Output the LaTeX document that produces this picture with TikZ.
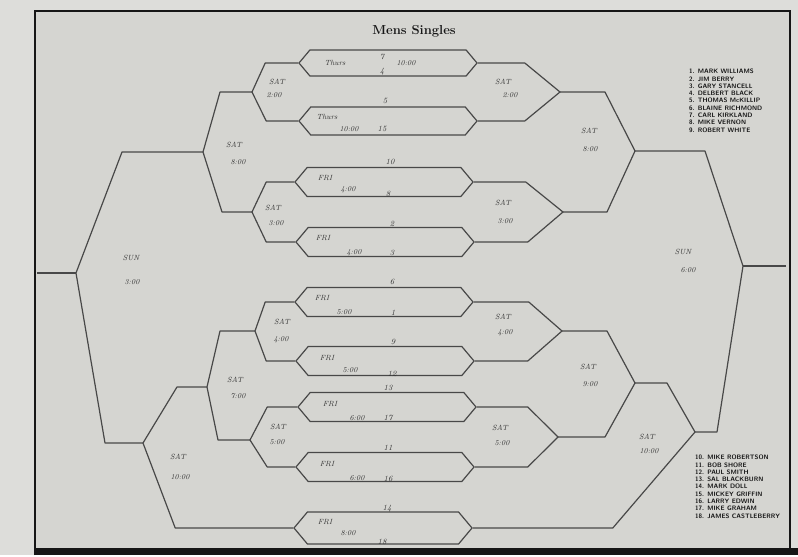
\documentclass[tikz,border=0pt]{standalone}
\usepackage{tikz}
\usetikzlibrary{shapes.symbols}

\definecolor{margin}{RGB}{221,221,218}
\definecolor{paper}{RGB}{213,213,209}
\definecolor{pen}{RGB}{72,72,72}
\definecolor{ink}{RGB}{50,50,50}
\definecolor{edge}{RGB}{22,22,22}

\begin{document}
\begin{tikzpicture}[
      x=1pt, y=-1pt,
      every node/.style={inner sep=0pt},
      match/.style={shape=signal, signal to=west and east, signal pointer angle=100, draw=pen, line width=1.2pt, minimum width=178, minimum height=29},
      wire/.style={draw=pen, line width=1.2pt, line join=round},
      hand/.style={text=ink, font=\fontsize{7.5}{8}\selectfont\itshape},
      seed/.style={text=ink, font=\fontsize{8}{8}\selectfont\itshape},
      roster/.style={text=edge, align=left, anchor=north west, font=\fontsize{6.4}{7.3}\selectfont\sffamily\bfseries}
    ]
      % paper and frame
      \fill[margin] (0,0) rectangle (798,555);
      \fill[paper] (35,11) rectangle (790,548);
      \draw[edge, line width=2.4pt] (35,555) -- (35,11) -- (790,11) -- (790,555);
      \fill[edge] (35,548) rectangle (798,555);
      \useasboundingbox (0,0) rectangle (798,555);

      \node[font=\fontsize{13}{14}\selectfont\bfseries, text=edge] (title) at (414,31) {Mens Singles};

      % first round
      \node[match, minimum height=26] (h1) at (388,63) {};
      \node[match, minimum height=28] (h2) at (388,121) {};
      \node[match] (h3) at (384,182) {};
      \node[match] (h4) at (385,242) {};
      \node[match] (h5) at (384,302) {};
      \node[match] (h6) at (385,361) {};
      \node[match] (h7) at (387,407) {};
      \node[match] (h8) at (385,467) {};
      \node[match, minimum height=32] (h9) at (383,528) {};

      % winners side (left)
      \coordinate (wa) at (252,92);
      \coordinate (wb) at (252,212);
      \coordinate (wc) at (255,331);
      \coordinate (wd) at (250,440);
      \coordinate (we) at (203,152);
      \coordinate (wf) at (207,387);
      \coordinate (wg) at (143,443);
      \coordinate (wh) at (76,273);
      \coordinate (wout) at (37,273);

      \path[wire] (h1.west) -- ++(-33,0) -- (wa) -- ([xshift=-32]h2.west) -- (h2.west);
      \path[wire] (h3.west) -- ++(-28,0) -- (wb) -- ([xshift=-29]h4.west) -- (h4.west);
      \path[wire] (h5.west) -- ++(-29,0) -- (wc) -- ([xshift=-29]h6.west) -- (h6.west);
      \path[wire] (h7.west) -- ++(-30,0) -- (wd) -- ([xshift=-28]h8.west) -- (h8.west);
      \path[wire] (wa) -- ++(-32,0) -- (we) -- ([xshift=-30]wb) -- (wb);
      \path[wire] (wc) -- ++(-35,0) -- (wf) -- ([xshift=-32]wd) -- (wd);
      \path[wire] (wf) -- ++(-30,0) -- (wg) -- ([xshift=-118]h9.west) -- (h9.west);
      \path[wire] (we) -- ++(-81,0) -- (wh) -- ([xshift=-38]wg) -- (wg);
      \path[wire] (wh) -- (wout);

      % losers side (right)
      \coordinate (la) at (560,92);
      \coordinate (lb) at (563,212);
      \coordinate (lc) at (562,331);
      \coordinate (ld) at (558,437);
      \coordinate (le) at (635,151);
      \coordinate (lf) at (635,383);
      \coordinate (lg) at (695,432);
      \coordinate (lh) at (743,266);
      \coordinate (lout) at (786,266);

      \path[wire] (h1.east) -- ++(47,0) -- (la) -- ([xshift=47]h2.east) -- (h2.east);
      \path[wire] (h3.east) -- ++(52,0) -- (lb) -- ([xshift=53]h4.east) -- (h4.east);
      \path[wire] (h5.east) -- ++(55,0) -- (lc) -- ([xshift=53]h6.east) -- (h6.east);
      \path[wire] (h7.east) -- ++(51,0) -- (ld) -- ([xshift=53]h8.east) -- (h8.east);
      \path[wire] (la) -- ++(45,0) -- (le) -- ([xshift=44]lb) -- (lb);
      \path[wire] (lc) -- ++(45,0) -- (lf) -- ([xshift=47]ld) -- (ld);
      \path[wire] (lf) -- ++(32,0) -- (lg) -- ([xshift=140]h9.east) -- (h9.east);
      \path[wire] (le) -- ++(70,0) -- (lh) -- ([xshift=22]lg) -- (lg);
      \path[wire] (lh) -- (lout);

      % first round labels
      \node[hand] (h1day) at (335,63) {Thurs};
      \node[hand] (h1time) at (406,63) {10:00};
      \node[seed] (h1top) at (382,57) {7};
      \node[seed] (h1bot) at (382,72) {4};
      \node[hand] (h2day) at (327,117) {Thurs};
      \node[hand] (h2time) at (349,129) {10:00};
      \node[seed] (h2top) at (385,101) {5};
      \node[seed] (h2bot) at (382,129) {15};
      \node[hand] (h3day) at (325,178) {FRI};
      \node[hand] (h3time) at (348,190) {4:00};
      \node[seed] (h3top) at (390,162) {10};
      \node[seed] (h3bot) at (388,194) {8};
      \node[hand] (h4day) at (323,238) {FRI};
      \node[hand] (h4time) at (354,253) {4:00};
      \node[seed] (h4top) at (392,224) {2};
      \node[seed] (h4bot) at (392,253) {3};
      \node[hand] (h5day) at (322,298) {FRI};
      \node[hand] (h5time) at (344,312) {5:00};
      \node[seed] (h5top) at (392,282) {6};
      \node[seed] (h5bot) at (393,313) {1};
      \node[hand] (h6day) at (327,358) {FRI};
      \node[hand] (h6time) at (350,370) {5:00};
      \node[seed] (h6top) at (393,342) {9};
      \node[seed] (h6bot) at (392,374) {12};
      \node[hand] (h7day) at (330,404) {FRI};
      \node[hand] (h7time) at (357,418) {6:00};
      \node[seed] (h7top) at (388,388) {13};
      \node[seed] (h7bot) at (388,418) {17};
      \node[hand] (h8day) at (327,464) {FRI};
      \node[hand] (h8time) at (357,478) {6:00};
      \node[seed] (h8top) at (388,448) {11};
      \node[seed] (h8bot) at (388,479) {16};
      \node[hand] (h9day) at (325,522) {FRI};
      \node[hand] (h9time) at (348,533) {8:00};
      \node[seed] (h9top) at (387,509) {14};
      \node[seed] (h9bot) at (382,542) {18};

      % winners side labels
      \node[hand] (waday) at (277,82) {SAT};
      \node[hand] (watime) at (274,95) {2:00};
      \node[hand] (wbday) at (273,208) {SAT};
      \node[hand] (wbtime) at (276,223) {3:00};
      \node[hand] (wcday) at (282,322) {SAT};
      \node[hand] (wctime) at (281,340) {4:00};
      \node[hand] (wdday) at (278,427) {SAT};
      \node[hand] (wdtime) at (277,442) {5:00};
      \node[hand] (weday) at (234,145) {SAT};
      \node[hand] (wetime) at (238,162) {8:00};
      \node[hand] (wfday) at (235,380) {SAT};
      \node[hand] (wftime) at (238,396) {7:00};
      \node[hand] (wgday) at (178,457) {SAT};
      \node[hand] (wgtime) at (180,477) {10:00};
      \node[hand] (whday) at (131,258) {SUN};
      \node[hand] (whtime) at (132,282) {3:00};

      % losers side labels
      \node[hand] (laday) at (503,82) {SAT};
      \node[hand] (latime) at (510,95) {2:00};
      \node[hand] (lbday) at (503,203) {SAT};
      \node[hand] (lbtime) at (505,221) {3:00};
      \node[hand] (lcday) at (503,317) {SAT};
      \node[hand] (lctime) at (505,333) {4:00};
      \node[hand] (ldday) at (500,428) {SAT};
      \node[hand] (ldtime) at (502,443) {5:00};
      \node[hand] (leday) at (589,131) {SAT};
      \node[hand] (letime) at (590,149) {8:00};
      \node[hand] (lfday) at (588,367) {SAT};
      \node[hand] (lftime) at (590,384) {9:00};
      \node[hand] (lgday) at (647,437) {SAT};
      \node[hand] (lgtime) at (649,451) {10:00};
      \node[hand] (lhday) at (683,252) {SUN};
      \node[hand] (lhtime) at (688,270) {6:00};

      % seedings
      \node[roster] (topseeds) at (689,69) {1. MARK WILLIAMS\\2. JIM BERRY\\3. GARY STANCELL\\4. DELBERT BLACK\\5. THOMAS McKILLIP\\6. BLAINE RICHMOND\\7. CARL KIRKLAND\\8. MIKE VERNON\\9. ROBERT WHITE};
      \node[roster] (lowseeds) at (695,455) {10. MIKE ROBERTSON\\11. BOB SHORE\\12. PAUL SMITH\\13. SAL BLACKBURN\\14. MARK DOLL\\15. MICKEY GRIFFIN\\16. LARRY EDWIN\\17. MIKE GRAHAM\\18. JAMES CASTLEBERRY};
    \end{tikzpicture}
\end{document}
